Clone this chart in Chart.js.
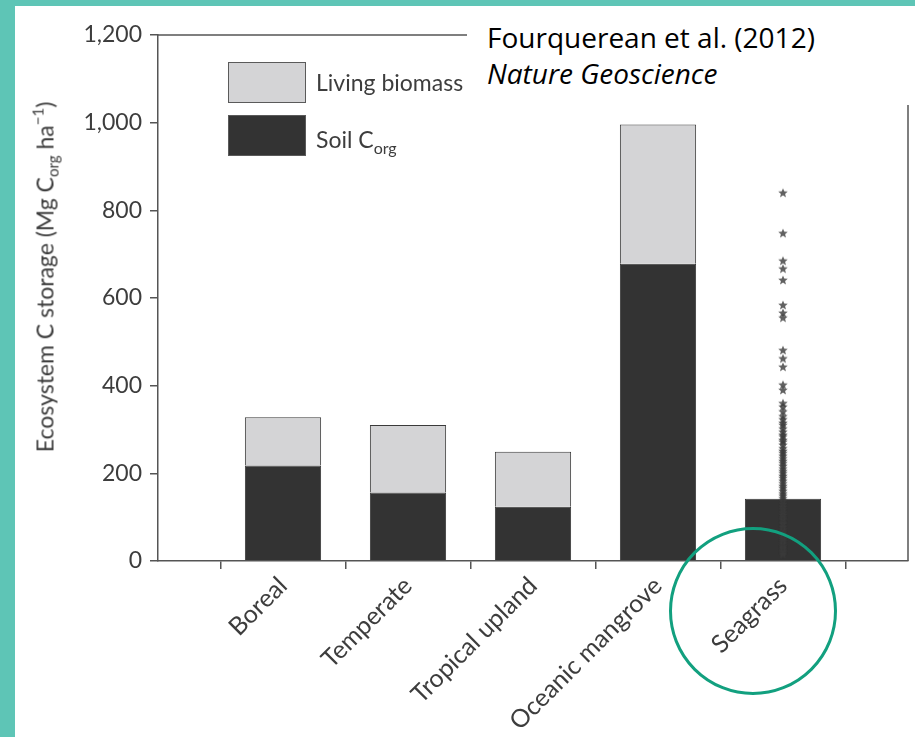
<!DOCTYPE html>
<html>
<head>
<meta charset="utf-8">
<script src="https://cdn.jsdelivr.net/npm/chart.js@4.4.1/dist/chart.umd.min.js"></script>
<style>
  html, body { margin: 0; padding: 0; background: #ffffff; }
  #wrap { position: relative; width: 915px; height: 737px; overflow: hidden; background: #fff; }
  #c { position: absolute; left: 0; top: 0; }
  .strip { position: absolute; background: #5ec5b6; }
  .txt { position: absolute; white-space: nowrap; line-height: 1; font-family: Lato, "Open Sans", sans-serif; color: #3d3d3d; }
  .box { position: absolute; box-sizing: border-box; border: 1px solid #5a5a5a; }
</style>
</head>
<body>
<div id="wrap">
  <canvas id="c" width="915" height="737"></canvas>
  <div class="strip" style="left:0;top:0;width:915px;height:6px;"></div>
  <div class="strip" style="left:0;top:0;width:15px;height:737px;"></div>

  <!-- citation box (covers the upper-right part of the frame) -->
  <div style="position:absolute;left:467px;top:6px;width:448px;height:99px;background:#fff;"></div>
  <div class="txt" style="left:487px;top:23px;font-size:28px;color:#000;font-family:'Open Sans',sans-serif;">Fourquerean et al. (2012)</div>
  <div class="txt" style="left:487px;top:59px;font-size:28px;color:#000;font-style:italic;font-family:'Open Sans',sans-serif;">Nature Geoscience</div>

  <!-- legend -->
  <div class="box" style="left:228px;top:62px;width:78px;height:41px;background:#d4d4d6;"></div>
  <div class="box" style="left:228px;top:115px;width:78px;height:41px;background:#333333;"></div>
  <div class="txt" style="left:316px;top:71px;font-size:23px;">Living biomass</div>
  <div class="txt" style="left:316px;top:128px;font-size:23px;">Soil C<span style="font-size:16px;position:relative;top:6px;">org</span></div>

  <!-- y axis title -->
  <div class="txt" style="left:45px;top:277px;font-size:23px;transform:translate(-50%,-50%) rotate(-90deg);">Ecosystem C storage (Mg C<span style="font-size:15px;position:relative;top:5px;">org</span> ha<span style="font-size:15px;position:relative;top:-10px;">−1</span>)</div>

  <!-- highlight circle -->
  <div style="position:absolute;left:669px;top:527px;width:168px;height:168px;box-sizing:border-box;border:3px solid #12a07f;border-radius:50%;"></div>
</div>

<script>
// ---- data ----
const categories = ['Boreal', 'Temperate', 'Tropical upland', 'Oceanic mangrove', 'Seagrass'];
const soilCorg = [218, 156, 124, 678, 142];
const livingBiomass = [110, 154, 125, 318, 0];
const seagrassSites = [840, 748, 685, 667, 641, 584, 566, 555, 481, 462, 443, 402, 390, 360, 352,
  341, 330, 323, 315, 310, 302, 295, 288, 284, 276, 272, 265, 257, 251, 246, 240, 234, 228, 223,
  217, 211, 205, 200, 194, 189, 183, 177, 171, 166, 160, 154, 149, 143, 137, 130, 124, 118, 111,
  105, 99, 95, 88, 85, 78, 72, 66, 62, 55, 50, 45, 40, 34, 30, 26, 22, 18, 15];
const yTicks = [0, 200, 400, 600, 800, 1000, 1200];

// category axis padded with an empty slot at each end
const axisLabels = [''].concat(categories, ['']);
const pad = arr => [null].concat(arr, [null]);

// star marker
function makeStar() {
  const c = document.createElement('canvas');
  c.width = 12; c.height = 12;
  const g = c.getContext('2d');
  g.beginPath();
  for (let i = 0; i < 10; i++) {
    const r = i % 2 === 0 ? 5.0 : 2.2;
    const a = -Math.PI / 2 + i * Math.PI / 5;
    const px = 6 + r * Math.cos(a), py = 6.4 + r * Math.sin(a);
    if (i === 0) g.moveTo(px, py); else g.lineTo(px, py);
  }
  g.closePath();
  g.fillStyle = 'rgba(58,58,58,0.8)';
  g.fill();
  return c;
}
const star = makeStar();

const framePlugin = {
  id: 'frame',
  afterDatasetsDraw(chart) {
    const { ctx, chartArea } = chart;
    ctx.save();
    ctx.strokeStyle = '#555';
    ctx.lineWidth = 1.5;
    ctx.beginPath();
    ctx.moveTo(chartArea.left, chartArea.top);
    ctx.lineTo(chartArea.right, chartArea.top);
    ctx.lineTo(chartArea.right, chartArea.bottom);
    ctx.stroke();
    ctx.restore();
  }
};

new Chart(document.getElementById('c'), {
  type: 'bar',
  data: {
    labels: axisLabels,
    datasets: [
      {
        type: 'line',
        label: 'Seagrass sites',
        data: seagrassSites.map(v => ({ x: 'Seagrass', y: v })),
        showLine: false,
        pointStyle: star,
        stack: 'sites',
        order: 0
      },
      {
        label: 'Soil Corg',
        data: pad(soilCorg),
        backgroundColor: '#333333',
        borderColor: '#3a3a3a',
        borderWidth: 1,
        stack: 'eco',
        order: 1,
        barPercentage: 0.61,
        categoryPercentage: 1
      },
      {
        label: 'Living biomass',
        data: pad(livingBiomass),
        backgroundColor: '#d4d4d6',
        borderColor: '#3a3a3a',
        borderWidth: 1,
        stack: 'eco',
        order: 1,
        barPercentage: 0.61,
        categoryPercentage: 1
      }
    ]
  },
  options: {
    responsive: false,
    animation: false,
    devicePixelRatio: 1,
    layout: { padding: { left: 0, right: 7, top: 35, bottom: 0 } },
    plugins: { legend: { display: false }, tooltip: { enabled: false } },
    scales: {
      x: {
        stacked: true,
        offset: false,
        afterFit: s => { s.height = 176; s.paddingRight = 0; s.paddingLeft = 0; },
        grid: {
          drawOnChartArea: false,
          tickLength: 8,
          lineWidth: 1.5,
          color: c => (c.index === 0 ? 'rgba(0,0,0,0)' : '#555')
        },
        border: { color: '#555', width: 1.5 },
        ticks: {
          autoSkip: false,
          maxRotation: 45,
          minRotation: 45,
          padding: 2,
          color: '#3d3d3d',
          font: { family: 'Lato', size: 25 }
        }
      },
      y: {
        stacked: true,
        min: 0,
        max: 1200,
        afterFit: s => { s.width = 158; s.paddingTop = 0; s.paddingBottom = 0; },
        afterBuildTicks: s => { s.ticks = yTicks.map(v => ({ value: v })); },
        grid: { drawOnChartArea: false, tickLength: 8, lineWidth: 1.5, color: '#555' },
        border: { color: '#555', width: 1.5 },
        ticks: {
          padding: 8,
          color: '#3d3d3d',
          font: { family: 'Lato', size: 23 },
          callback: v => v.toLocaleString('en-US')
        }
      }
    }
  },
  plugins: [framePlugin]
});
</script>
</body>
</html>
